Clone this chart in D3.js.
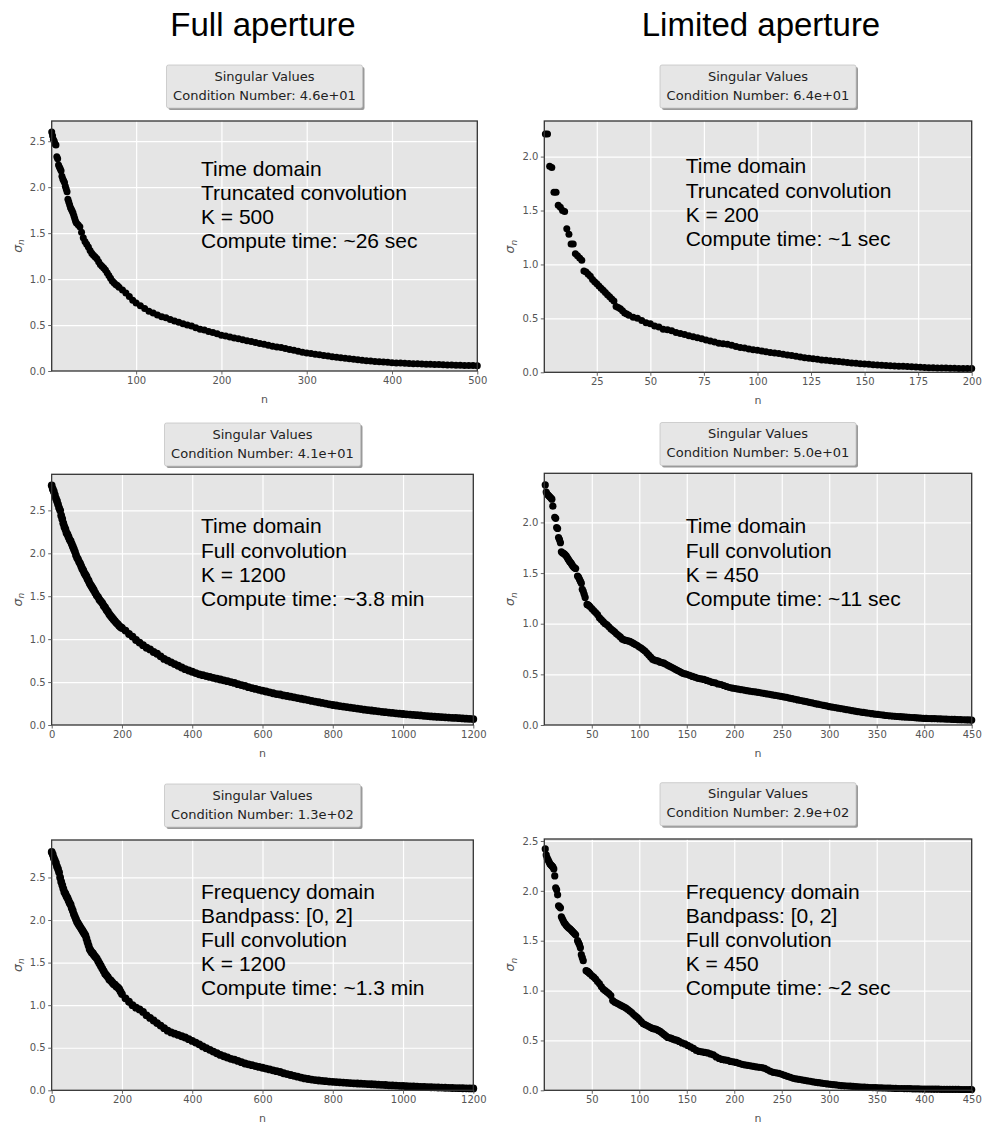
<!DOCTYPE html>
<html>
<head>
    <meta charset="utf-8">
    <title>Singular values</title>
    <script src="https://d3js.org/d3.v7.min.js"></script>
    <style>
        body { margin: 0; background: #fff; }
    </style>
</head>
<body>
<div id="chart"></div>
<script type="text/javascript">

// singular values, as [n, sigma_n]
const fullTruncated = [
  [1,2.60],[2,2.56],[3,2.52],[4,2.50],[5,2.47],[6,2.46],[7,2.33],[8,2.31],[9,2.24],[10,2.22],
  [11,2.20],[12,2.18],[13,2.12],[14,2.09],[15,2.07],[16,2.05],[17,2.01],[18,1.98],[19,1.95],[20,1.87],
  [21,1.84],[22,1.81],[23,1.78],[24,1.76],[25,1.74],[26,1.72],[27,1.69],[28,1.66],[29,1.63],[30,1.61],
  [32,1.59],[34,1.57],[36,1.51],[38,1.45],[40,1.41],[42,1.38],[44,1.35],[46,1.31],[48,1.28],[50,1.26],
  [52,1.24],[54,1.22],[56,1.19],[58,1.16],[60,1.14],[62,1.12],[64,1.10],[66,1.07],[68,1.04],[70,1.01],
  [72,0.98],[74,0.96],[76,0.94],[78,0.93],[80,0.91],[84,0.88],[88,0.85],[92,0.81],[96,0.77],[100,0.74],
  [105,0.71],[110,0.68],[115,0.65],[120,0.63],[125,0.61],[130,0.59],[135,0.58],[140,0.56],[145,0.545],[150,0.53],
  [155,0.515],[160,0.50],[165,0.49],[170,0.47],[175,0.455],[180,0.445],[185,0.43],[190,0.42],[195,0.405],[200,0.39],
  [205,0.38],[210,0.37],[215,0.36],[220,0.35],[225,0.34],[230,0.33],[235,0.32],[240,0.31],[245,0.30],[250,0.29],
  [255,0.28],[260,0.27],[265,0.26],[270,0.255],[275,0.245],[280,0.235],[285,0.225],[290,0.215],[295,0.205],[300,0.197],
  [305,0.19],[310,0.183],[315,0.176],[320,0.169],[325,0.162],[330,0.156],[335,0.15],[340,0.144],[345,0.138],[350,0.132],
  [355,0.127],[360,0.122],[365,0.117],[370,0.112],[375,0.108],[380,0.104],[385,0.100],[390,0.097],[395,0.094],[400,0.091],
  [405,0.088],[410,0.086],[415,0.084],[420,0.082],[425,0.080],[430,0.078],[435,0.076],[440,0.074],[445,0.073],[450,0.072],
  [455,0.070],[460,0.068],[465,0.066],[470,0.064],[475,0.063],[480,0.062],[485,0.061],[490,0.060],[495,0.059],[500,0.057]
];

const limitedTruncated = [
  [1,2.21],[2,2.21],[3,1.91],[4,1.90],[5,1.67],[6,1.67],[7,1.55],[8,1.53],[9,1.50],[10,1.49],
  [11,1.33],[12,1.28],[13,1.19],[14,1.19],[15,1.10],[16,1.08],[17,1.06],[18,1.04],[19,0.94],[20,0.93],
  [21,0.91],[22,0.89],[23,0.86],[24,0.84],[25,0.82],[26,0.80],[27,0.78],[28,0.76],[29,0.74],[30,0.72],
  [31,0.70],[32,0.68],[33,0.66],[34,0.61],[35,0.60],[36,0.59],[37,0.57],[38,0.55],[39,0.54],[40,0.53],
  [42,0.51],[44,0.50],[46,0.48],[48,0.46],[50,0.45],[52,0.43],[54,0.42],[56,0.40],[58,0.395],[60,0.385],
  [62,0.37],[64,0.36],[66,0.35],[68,0.34],[70,0.33],[72,0.32],[74,0.31],[76,0.30],[78,0.29],[80,0.28],
  [82,0.27],[84,0.265],[86,0.26],[88,0.25],[90,0.24],[92,0.23],[94,0.225],[96,0.215],[98,0.21],[100,0.205],
  [102,0.197],[104,0.19],[106,0.183],[108,0.18],[110,0.175],[112,0.168],[114,0.16],[116,0.155],[118,0.148],[120,0.142],
  [122,0.136],[124,0.13],[126,0.125],[128,0.12],[130,0.115],[132,0.111],[134,0.107],[136,0.103],[138,0.099],[140,0.095],
  [142,0.091],[144,0.087],[146,0.083],[148,0.080],[150,0.077],[152,0.074],[154,0.071],[156,0.068],[158,0.066],[160,0.063],
  [162,0.061],[164,0.059],[166,0.057],[168,0.055],[170,0.053],[172,0.051],[174,0.049],[176,0.047],[178,0.045],[180,0.043],
  [182,0.042],[184,0.041],[186,0.040],[188,0.039],[190,0.038],[192,0.037],[194,0.036],[196,0.036],[198,0.035],[200,0.035]
];

const fullTimeFull = [
  [0,2.79],[3,2.75],[6,2.72],[9,2.68],[12,2.64],[15,2.61],[18,2.57],[21,2.53],[24,2.50],[27,2.44],
  [30,2.40],[33,2.35],[36,2.31],[39,2.28],[42,2.24],[45,2.22],[48,2.19],[51,2.16],[54,2.14],[57,2.11],
  [60,2.08],[63,2.05],[66,2.02],[69,1.98],[72,1.95],[75,1.93],[78,1.90],[81,1.88],[84,1.85],[87,1.82],
  [90,1.80],[93,1.77],[96,1.75],[99,1.73],[102,1.70],[105,1.68],[108,1.65],[111,1.63],[114,1.61],[117,1.59],
  [120,1.57],[124,1.54],[128,1.51],[132,1.49],[136,1.46],[140,1.44],[144,1.42],[148,1.39],[152,1.37],[156,1.34],
  [160,1.32],[164,1.29],[168,1.27],[172,1.25],[176,1.23],[180,1.21],[184,1.19],[188,1.175],[192,1.155],[196,1.14],
  [200,1.13],[210,1.10],[220,1.06],[230,1.03],[240,0.99],[250,0.96],[260,0.93],[270,0.90],[280,0.88],[290,0.85],
  [300,0.83],[310,0.80],[320,0.77],[330,0.75],[340,0.73],[350,0.71],[360,0.69],[370,0.67],[380,0.65],[390,0.635],
  [400,0.62],[410,0.605],[420,0.59],[430,0.58],[440,0.57],[450,0.56],[460,0.55],[470,0.54],[480,0.53],[490,0.52],
  [500,0.51],[510,0.50],[520,0.49],[530,0.475],[540,0.465],[550,0.455],[560,0.44],[570,0.43],[580,0.42],[590,0.41],
  [600,0.40],[610,0.39],[620,0.38],[630,0.37],[640,0.36],[650,0.355],[660,0.345],[670,0.338],[680,0.33],[690,0.322],
  [700,0.314],[710,0.306],[720,0.298],[730,0.29],[740,0.28],[750,0.273],[760,0.265],[770,0.257],[780,0.249],[790,0.241],
  [800,0.233],[810,0.227],[820,0.221],[830,0.215],[840,0.209],[850,0.203],[860,0.197],[870,0.191],[880,0.185],[890,0.179],
  [900,0.174],[910,0.169],[920,0.164],[930,0.159],[940,0.154],[950,0.149],[960,0.145],[970,0.141],[980,0.136],[990,0.132],
  [1000,0.128],[1010,0.124],[1020,0.121],[1030,0.117],[1040,0.114],[1050,0.111],[1060,0.107],[1070,0.104],[1080,0.100],[1090,0.097],
  [1100,0.094],[1110,0.092],[1120,0.089],[1130,0.087],[1140,0.084],[1150,0.082],[1160,0.079],[1170,0.077],[1180,0.074],[1190,0.072],
  [1200,0.069]
];

const limitedTimeFull = [
  [1,2.37],[2,2.30],[3,2.28],[4,2.27],[5,2.26],[6,2.25],[7,2.24],[8,2.23],[9,2.16],[11,2.05],
  [12,2.04],[13,1.95],[14,1.94],[15,1.85],[16,1.83],[17,1.80],[18,1.71],[19,1.70],[20,1.695],[21,1.69],
  [22,1.68],[23,1.67],[24,1.655],[25,1.64],[26,1.625],[27,1.61],[28,1.60],[29,1.585],[30,1.57],[31,1.56],
  [32,1.55],[33,1.545],[35,1.47],[36,1.46],[37,1.44],[38,1.42],[39,1.40],[40,1.34],[41,1.32],[42,1.29],
  [43,1.26],[45,1.19],[46,1.185],[47,1.18],[48,1.17],[50,1.15],[52,1.13],[54,1.11],[56,1.09],[58,1.06],
  [60,1.04],[62,1.02],[64,1.00],[66,0.99],[68,0.97],[70,0.95],[72,0.935],[74,0.92],[76,0.90],[78,0.885],
  [80,0.87],[82,0.85],[84,0.84],[86,0.835],[88,0.83],[90,0.825],[92,0.815],[94,0.805],[96,0.795],[98,0.785],
  [100,0.77],[102,0.76],[104,0.745],[106,0.73],[108,0.71],[110,0.69],[112,0.67],[114,0.65],[116,0.64],[118,0.635],
  [120,0.63],[122,0.62],[124,0.615],[126,0.61],[128,0.60],[130,0.59],[132,0.58],[134,0.57],[136,0.56],[138,0.55],
  [140,0.54],[142,0.53],[144,0.52],[146,0.51],[148,0.505],[150,0.50],[153,0.49],[156,0.48],[159,0.47],[162,0.46],
  [165,0.455],[168,0.45],[171,0.44],[174,0.43],[177,0.42],[180,0.415],[183,0.405],[186,0.40],[189,0.39],[192,0.38],
  [195,0.37],[198,0.365],[201,0.36],[204,0.355],[207,0.35],[210,0.345],[213,0.34],[216,0.335],[219,0.33],[222,0.327],
  [225,0.323],[228,0.318],[231,0.313],[234,0.308],[237,0.303],[240,0.298],[243,0.293],[246,0.288],[249,0.283],[252,0.278],
  [255,0.272],[258,0.266],[261,0.26],[264,0.254],[267,0.248],[270,0.242],[273,0.236],[276,0.23],[279,0.224],[282,0.218],
  [285,0.212],[288,0.206],[291,0.200],[294,0.194],[297,0.188],[300,0.182],[303,0.177],[306,0.172],[309,0.167],[312,0.162],
  [315,0.157],[318,0.152],[321,0.147],[324,0.142],[327,0.137],[330,0.132],[333,0.128],[336,0.124],[339,0.120],[342,0.116],
  [345,0.112],[348,0.108],[351,0.104],[354,0.101],[357,0.098],[360,0.094],[363,0.091],[366,0.088],[369,0.086],[372,0.084],
  [375,0.082],[378,0.080],[381,0.078],[384,0.076],[387,0.074],[390,0.072],[393,0.070],[396,0.068],[399,0.066],[402,0.065],
  [405,0.064],[408,0.063],[411,0.062],[414,0.061],[417,0.060],[420,0.059],[423,0.058],[426,0.057],[429,0.056],[432,0.055],
  [435,0.054],[438,0.053],[441,0.052],[444,0.051],[447,0.050],[450,0.049]
];

const fullFreq = [
  [0,2.80],[3,2.77],[6,2.73],[9,2.70],[12,2.67],[15,2.63],[18,2.60],[21,2.56],[24,2.50],[27,2.45],
  [30,2.41],[33,2.37],[36,2.33],[39,2.31],[42,2.28],[45,2.26],[48,2.23],[51,2.20],[54,2.18],[57,2.14],
  [60,2.11],[63,2.07],[66,2.04],[69,2.01],[72,1.98],[75,1.96],[78,1.94],[81,1.92],[84,1.90],[87,1.88],
  [90,1.86],[93,1.84],[96,1.82],[99,1.78],[102,1.74],[105,1.70],[108,1.66],[111,1.64],[114,1.62],[117,1.61],
  [120,1.59],[124,1.57],[128,1.55],[132,1.52],[136,1.49],[140,1.46],[144,1.43],[148,1.40],[152,1.37],[156,1.35],
  [160,1.33],[164,1.30],[168,1.29],[172,1.27],[176,1.25],[180,1.24],[184,1.22],[188,1.21],[192,1.19],[196,1.16],
  [200,1.13],[210,1.08],[220,1.04],[230,1.00],[240,0.97],[250,0.95],[260,0.92],[270,0.88],[280,0.85],[290,0.82],
  [300,0.79],[310,0.76],[320,0.73],[330,0.70],[340,0.68],[350,0.665],[360,0.65],[370,0.635],[380,0.62],[390,0.60],
  [400,0.58],[410,0.56],[420,0.54],[430,0.515],[440,0.495],[450,0.475],[460,0.455],[470,0.435],[480,0.415],[490,0.40],
  [500,0.385],[510,0.37],[520,0.36],[530,0.345],[540,0.33],[550,0.315],[560,0.305],[570,0.295],[580,0.285],[590,0.275],
  [600,0.265],[610,0.255],[620,0.245],[630,0.235],[640,0.225],[650,0.215],[660,0.20],[670,0.19],[680,0.18],[690,0.17],
  [700,0.16],[710,0.15],[720,0.14],[730,0.133],[740,0.126],[750,0.12],[760,0.115],[770,0.111],[780,0.107],[790,0.103],
  [800,0.10],[810,0.097],[820,0.094],[830,0.091],[840,0.088],[850,0.085],[860,0.082],[870,0.08],[880,0.078],[890,0.076],
  [900,0.073],[910,0.071],[920,0.069],[930,0.066],[940,0.064],[950,0.062],[960,0.059],[970,0.057],[980,0.055],[990,0.053],
  [1000,0.051],[1010,0.049],[1020,0.047],[1030,0.045],[1040,0.043],[1050,0.041],[1060,0.04],[1070,0.038],[1080,0.036],[1090,0.035],
  [1100,0.033],[1110,0.032],[1120,0.030],[1130,0.029],[1140,0.027],[1150,0.026],[1160,0.025],[1170,0.024],[1180,0.023],[1190,0.022],
  [1200,0.0215]
];

const limitedFreq = [
  [1,2.42],[2,2.36],[3,2.33],[4,2.31],[5,2.29],[6,2.27],[7,2.26],[8,2.25],[9,2.24],[10,2.22],
  [11,2.15],[12,2.03],[13,2.01],[14,1.96],[15,1.85],[16,1.84],[17,1.83],[18,1.74],[19,1.72],[20,1.70],
  [21,1.68],[22,1.67],[23,1.655],[24,1.645],[25,1.635],[26,1.625],[27,1.62],[28,1.61],[29,1.60],[30,1.59],
  [31,1.58],[32,1.57],[33,1.56],[35,1.50],[36,1.48],[37,1.46],[38,1.43],[39,1.36],[40,1.33],[41,1.30],
  [44,1.20],[45,1.195],[46,1.19],[47,1.18],[48,1.17],[50,1.15],[52,1.135],[54,1.115],[56,1.09],[58,1.07],
  [60,1.04],[62,1.015],[64,1.00],[66,0.985],[68,0.97],[70,0.95],[72,0.90],[74,0.885],[76,0.875],[78,0.865],
  [80,0.855],[82,0.845],[84,0.835],[86,0.825],[88,0.81],[90,0.795],[92,0.78],[94,0.76],[96,0.745],[98,0.73],
  [100,0.71],[102,0.69],[104,0.67],[106,0.66],[108,0.65],[110,0.64],[112,0.63],[114,0.62],[116,0.615],[118,0.61],
  [120,0.60],[122,0.59],[124,0.575],[126,0.56],[128,0.545],[130,0.53],[132,0.525],[134,0.52],[136,0.51],[138,0.505],
  [140,0.50],[142,0.49],[145,0.475],[148,0.465],[151,0.45],[154,0.435],[157,0.42],[160,0.40],[163,0.39],[166,0.385],
  [169,0.38],[172,0.375],[175,0.365],[178,0.355],[181,0.335],[184,0.32],[187,0.31],[190,0.305],[193,0.30],[196,0.29],
  [199,0.285],[202,0.28],[205,0.27],[208,0.26],[211,0.255],[214,0.25],[217,0.245],[220,0.24],[223,0.235],[226,0.23],
  [229,0.228],[232,0.22],[235,0.205],[238,0.19],[241,0.18],[244,0.175],[247,0.17],[250,0.16],[253,0.15],[256,0.14],
  [259,0.13],[262,0.12],[265,0.115],[268,0.11],[271,0.105],[274,0.10],[277,0.095],[280,0.09],[283,0.085],[286,0.08],
  [289,0.076],[292,0.072],[295,0.068],[298,0.064],[301,0.06],[304,0.057],[307,0.054],[310,0.05],[313,0.047],[316,0.045],
  [319,0.043],[322,0.041],[325,0.039],[328,0.037],[331,0.035],[334,0.033],[337,0.031],[340,0.030],[343,0.028],[346,0.027],
  [349,0.026],[352,0.025],[355,0.024],[358,0.023],[361,0.022],[364,0.021],[367,0.020],[370,0.019],[373,0.018],[376,0.018],
  [379,0.017],[382,0.016],[385,0.016],[388,0.015],[391,0.014],[394,0.014],[397,0.013],[400,0.013],[403,0.012],[406,0.012],
  [409,0.011],[412,0.011],[415,0.011],[418,0.010],[421,0.010],[424,0.010],[427,0.009],[430,0.009],[433,0.009],[436,0.009],
  [439,0.008],[442,0.008],[445,0.008],[448,0.008],[450,0.008]
];

// tick values
const xTicks500 = [100, 200, 300, 400, 500];
const xTicks200 = [25, 50, 75, 100, 125, 150, 175, 200];
const xTicks1200 = [0, 200, 400, 600, 800, 1000, 1200];
const xTicks450 = [50, 100, 150, 200, 250, 300, 350, 400, 450];
const yTicks25 = [0, 0.5, 1.0, 1.5, 2.0, 2.5];
const yTicks20 = [0, 0.5, 1.0, 1.5, 2.0];

// texts
const columnTitles = ["Full aperture", "Limited aperture"];
const conditionNumbers = ["4.6e+01", "6.4e+01", "4.1e+01", "5.0e+01", "1.3e+02", "2.9e+02"];
const notes = [
  ["Time domain", "Truncated convolution", "K = 500", "Compute time: ~26 sec"],
  ["Time domain", "Truncated convolution", "K = 200", "Compute time: ~1 sec"],
  ["Time domain", "Full convolution", "K = 1200", "Compute time: ~3.8 min"],
  ["Time domain", "Full convolution", "K = 450", "Compute time: ~11 sec"],
  ["Frequency domain", "Bandpass: [0, 2]", "Full convolution", "K = 1200", "Compute time: ~1.3 min"],
  ["Frequency domain", "Bandpass: [0, 2]", "Full convolution", "K = 450", "Compute time: ~2 sec"]
];

// layout of each panel (pixels in the page)
const panels = [
  {data: fullTruncated,   l: 51.7,  r: 477.3, t: 121,   b: 371,    xDom: [1, 500],   xTicks: xTicks500,  yDom: [0, 2.72], yTicks: yTicks25, boxTop: 65,    noteX: 201,   noteY: 175.5, dot: 3.5},
  {data: limitedTruncated,l: 544.3, r: 971.7, t: 121,   b: 372.3,  xDom: [0.5, 200], xTicks: xTicks200,  yDom: [0, 2.33], yTicks: yTicks20, boxTop: 65,    noteX: 685.7, noteY: 173.3, dot: 3.5},
  {data: fullTimeFull,    l: 51.7,  r: 473.3, t: 474.3, b: 725,    xDom: [0, 1200],  xTicks: xTicks1200, yDom: [0, 2.92], yTicks: yTicks25, boxTop: 423,   noteX: 201,   noteY: 533.3, dot: 3.9},
  {data: limitedTimeFull, l: 544.3, r: 971.7, t: 473.3, b: 725,    xDom: [0, 450],   xTicks: xTicks450,  yDom: [0, 2.485],yTicks: yTicks20, boxTop: 422.5, noteX: 685.7, noteY: 533.3, dot: 3.6},
  {data: fullFreq,        l: 51.7,  r: 473.3, t: 840,   b: 1090.3, xDom: [0, 1200],  xTicks: xTicks1200, yDom: [0, 2.94], yTicks: yTicks25, boxTop: 784,   noteX: 201,   noteY: 898.5, dot: 3.9},
  {data: limitedFreq,     l: 544.3, r: 971.7, t: 839,   b: 1090.3, xDom: [0, 450],   xTicks: xTicks450,  yDom: [0, 2.52], yTicks: yTicks25, boxTop: 782.7, noteX: 685.7, noteY: 898.5, dot: 3.6}
];

const W = 983, H = 1124;
const mplFont = "'DejaVu Sans', sans-serif";
const helv = "'Liberation Sans', Arial, Helvetica, sans-serif";

let svg = d3.select("#chart")
        .append("svg")
            .attr("width", W)
            .attr("height", H);

// column headings
svg.selectAll("text.col")
        .data(columnTitles)
        .enter()
        .append("text")
        .attr("class", "col")
        .attr("x", function(d, i) { return i === 0 ? 263 : 761; })
        .attr("y", 36)
        .attr("text-anchor", "middle")
        .attr("font-family", helv)
        .attr("font-size", "33px")
        .attr("fill", "#000")
        .text(function(d) { return d; });

function render_panel(p, i) {
    let w = p.r - p.l;
    let h = p.b - p.t;

    let g = svg.append("g")
            .attr("transform", "translate(" + p.l + "," + p.t + ")");

    let xScale = d3.scaleLinear().domain(p.xDom).range([0, w]);
    let yScale = d3.scaleLinear().domain(p.yDom).range([h, 0]);

    // background
    g.append("rect")
        .attr("width", w)
        .attr("height", h)
        .attr("fill", "#e5e5e5");

    // white grid
    g.append("g")
        .attr("transform", "translate(0," + h + ")")
        .call(d3.axisBottom(xScale).tickValues(p.xTicks).tickSize(-h).tickFormat(""))
        .call(function(a) {
            a.select(".domain").remove();
            a.selectAll("line").attr("stroke", "#fff").attr("stroke-width", 1.2);
        });
    g.append("g")
        .call(d3.axisLeft(yScale).tickValues(p.yTicks).tickSize(-w).tickFormat(""))
        .call(function(a) {
            a.select(".domain").remove();
            a.selectAll("line").attr("stroke", "#fff").attr("stroke-width", 1.2);
        });

    // points
    g.selectAll("circle")
        .data(p.data)
        .enter()
        .append("circle")
        .attr("cx", function(d) { return xScale(d[0]); })
        .attr("cy", function(d) { return yScale(d[1]); })
        .attr("r", p.dot)
        .attr("fill", "#000");

    // frame
    g.append("rect")
        .attr("width", w)
        .attr("height", h)
        .attr("fill", "none")
        .attr("stroke", "#333")
        .attr("stroke-width", 1.3);

    // axes with tick labels
    let xAxis = g.append("g")
        .attr("transform", "translate(0," + h + ")")
        .call(d3.axisBottom(xScale).tickValues(p.xTicks).tickSize(3.5).tickSizeOuter(0).tickPadding(2.5).tickFormat(d3.format("d")));
    let yAxis = g.append("g")
        .call(d3.axisLeft(yScale).tickValues(p.yTicks).tickSize(3.5).tickSizeOuter(0).tickPadding(2.5).tickFormat(d3.format(".1f")));
    [xAxis, yAxis].forEach(function(a) {
        a.select(".domain").remove();
        a.selectAll("line").attr("stroke", "#555").attr("stroke-width", 0.9);
        a.selectAll("text")
            .attr("fill", "#555")
            .attr("font-family", mplFont)
            .attr("font-size", "10px");
    });

    // axis labels
    g.append("text")
        .attr("x", w / 2)
        .attr("y", h + 32)
        .attr("text-anchor", "middle")
        .attr("font-family", mplFont)
        .attr("font-size", "11px")
        .attr("fill", "#555")
        .text("n");

    let yl = g.append("text")
        .attr("transform", "translate(-30," + (h / 2) + ") rotate(-90)")
        .attr("text-anchor", "middle")
        .attr("font-family", mplFont)
        .attr("font-size", "12.5px")
        .attr("fill", "#555");
    yl.append("tspan").attr("font-style", "italic").text("σ");
    yl.append("tspan").attr("font-style", "italic").attr("font-size", "9px").attr("dy", 2.5).text("n");

    // title box above the axes
    let cx = p.l + w / 2;
    let bw = 196, bh = 43;
    let box = svg.append("g").attr("transform", "translate(" + (cx - bw / 2) + "," + p.boxTop + ")");
    box.append("rect")
        .attr("x", 2).attr("y", 2)
        .attr("width", bw).attr("height", bh)
        .attr("rx", 2)
        .attr("fill", "#9a9a9a");
    box.append("rect")
        .attr("width", bw).attr("height", bh)
        .attr("rx", 2)
        .attr("fill", "#e6e6e6")
        .attr("stroke", "#c4c4c4")
        .attr("stroke-width", 0.8);
    box.selectAll("text")
        .data(["Singular Values", "Condition Number: " + conditionNumbers[i]])
        .enter()
        .append("text")
        .attr("x", bw / 2)
        .attr("y", function(d, k) { return 15.5 + k * 19; })
        .attr("text-anchor", "middle")
        .attr("font-family", mplFont)
        .attr("font-size", "13px")
        .attr("fill", "#222")
        .text(function(d) { return d; });

    // annotation
    svg.append("g").selectAll("text")
        .data(notes[i])
        .enter()
        .append("text")
        .attr("x", p.noteX)
        .attr("y", function(d, k) { return p.noteY + k * 24.2; })
        .attr("font-family", helv)
        .attr("font-size", "21px")
        .attr("fill", "#000")
        .text(function(d) { return d; });
}

panels.forEach(render_panel);

</script>
</body>
</html>
